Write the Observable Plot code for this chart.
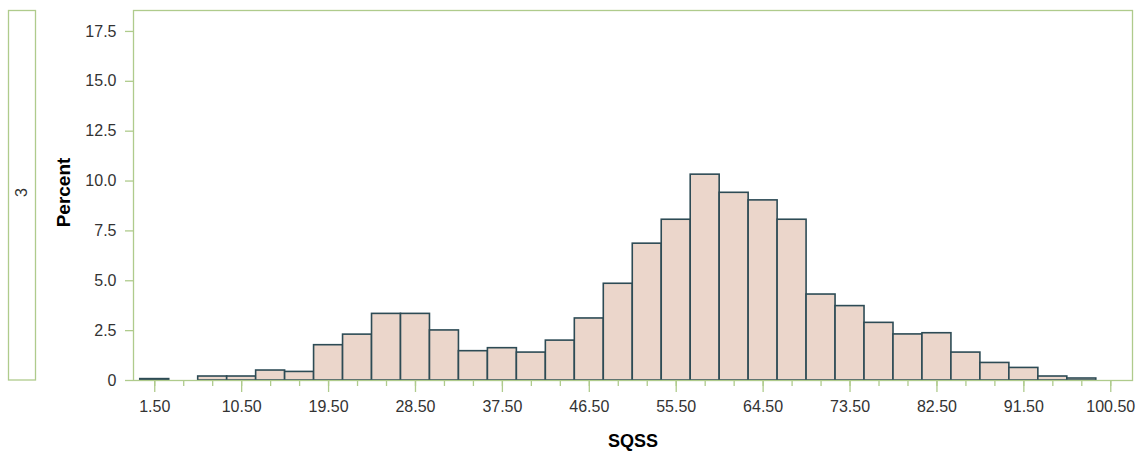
<!DOCTYPE html>
<html>
<head>
<meta charset="utf-8">
<script src="https://cdn.jsdelivr.net/npm/d3@7"></script>
<script src="https://cdn.jsdelivr.net/npm/@observablehq/plot@0.6"></script>
<style>
  html, body { margin: 0; padding: 0; background: #fff; }
  #chart svg { display: block; }
</style>
</head>
<body>
<div id="chart"></div>
<script>
// Histogram of SQSS (group 3): bin starts (width 3) and percentages
const binStarts = [0, 3, 6, 9, 12, 15, 18, 21, 24, 27, 30, 33, 36, 39, 42, 45, 48, 51, 54, 57, 60, 63, 66, 69, 72, 75, 78, 81, 84, 87, 90, 93, 96];
const percents  = [0.07, 0, 0.2, 0.2, 0.5, 0.43, 1.77, 2.3, 3.34, 3.34, 2.51, 1.47, 1.62, 1.4, 2.0, 3.11, 4.85, 6.86, 8.06, 10.32, 9.41, 9.03, 8.06, 4.31, 3.73, 2.89, 2.31, 2.37, 1.4, 0.88, 0.63, 0.2, 0.1];
const binWidth = 3;
const xMinorTicks = [1.5, 4.5, 7.5, 10.5, 13.5, 16.5, 19.5, 22.5, 25.5, 28.5, 31.5, 34.5, 37.5, 40.5, 43.5, 46.5, 49.5, 52.5, 55.5, 58.5, 61.5, 64.5, 67.5, 70.5, 73.5, 76.5, 79.5, 82.5, 85.5, 88.5, 91.5, 94.5, 97.5, 100.5];
const xMajorTicks = [1.5, 10.5, 19.5, 28.5, 37.5, 46.5, 55.5, 64.5, 73.5, 82.5, 91.5, 100.5];
const yTicks = [0, 2.5, 5, 7.5, 10, 12.5, 15, 17.5];
const panelLabel = "3";
const xLabel = "SQSS";
const yLabel = "Percent";

const bins = binStarts.map((s, i) => ({x1: s, x2: s + binWidth, y: percents[i]}));

const frameColor = "#AFCB8C";
const textColor = "#333333";

const chart = Plot.plot({
  width: 1146,
  height: 457,
  marginLeft: 133,
  marginRight: 14,
  marginTop: 10,
  marginBottom: 77,
  style: {fontFamily: "'Liberation Sans', Arial, sans-serif", fontSize: "16px", color: textColor, background: "#fff"},
  x: {domain: [-0.7, 102.75]},
  y: {domain: [0, 18.55]},
  marks: [
    Plot.rectY(bins, {x1: "x1", x2: "x2", y: "y", fill: "#EBD6CB", stroke: "#2D4B55", strokeWidth: 1.6, insetLeft: 0, insetRight: 0}),
    Plot.frame({stroke: frameColor, strokeWidth: 1.3}),
    Plot.axisX(xMinorTicks, {tickSize: 6, stroke: frameColor, strokeWidth: 1.3, tickFormat: () => "", label: null}),
    Plot.axisX(xMajorTicks, {tickSize: 12, stroke: frameColor, strokeWidth: 1.3, fill: textColor, tickPadding: 8, tickFormat: d => d.toFixed(2), label: null, fontSize: 16}),
    Plot.axisY(yTicks, {tickSize: 8, stroke: frameColor, strokeWidth: 1.3, fill: textColor, tickPadding: 9, tickFormat: d => d === 0 ? "0" : d.toFixed(1), label: null, fontSize: 16}),
    Plot.text([yLabel], {frameAnchor: "left", textAnchor: "middle", lineAnchor: "middle", dx: -70, dy: -3, rotate: -90, fontWeight: "bold", fontSize: 19, fill: "#000"}),
    Plot.text([xLabel], {frameAnchor: "bottom", textAnchor: "middle", lineAnchor: "middle", dy: 61, fontWeight: "bold", fontSize: 18, fill: "#000"}),
    Plot.text([panelLabel], {frameAnchor: "left", textAnchor: "middle", lineAnchor: "middle", dx: -112, dy: -3, rotate: -90, fontSize: 16, fill: textColor})
  ]
});

// Panel (group) label box on the left
d3.select(chart).insert("rect", ":first-child")
  .attr("x", 8.5).attr("y", 10.5).attr("width", 27).attr("height", 369.5)
  .attr("fill", "none").attr("stroke", frameColor).attr("stroke-width", 1.3);

document.getElementById("chart").appendChild(chart);
</script>
</body>
</html>
